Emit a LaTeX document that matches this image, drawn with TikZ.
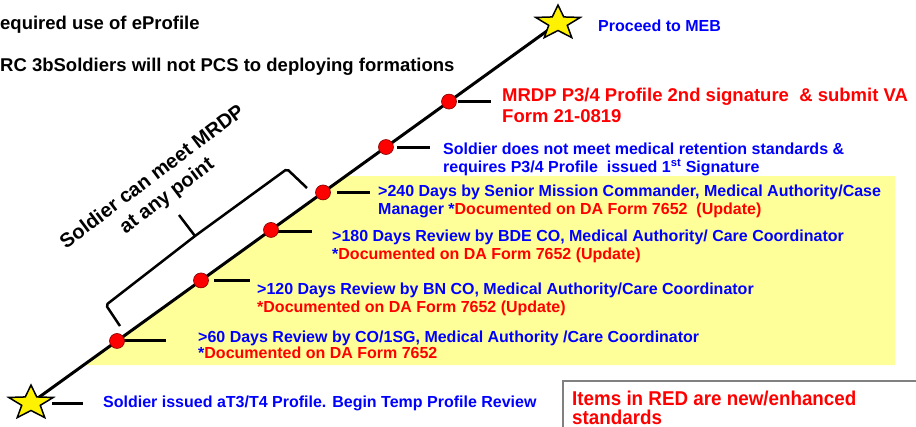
\documentclass[tikz,border=0pt]{standalone}
\usepackage{fontspec}
\setmainfont{Liberation Sans}
\usetikzlibrary{calc}
\definecolor{blu}{RGB}{0,0,255}
\definecolor{rd}{RGB}{255,0,0}
\definecolor{ylw}{RGB}{255,255,153}
\newcommand{\mkstar}[1]{%
  \draw[starfill, shift={(#1)}, xscale=1.3]
    (-90:18) -- (-54:7.5) -- (-18:18) -- (18:7.5) -- (54:18) -- (90:7.5)
    -- (126:18) -- (162:7.5) -- (198:18) -- (234:7.5) -- cycle;}
\begin{document}
\begin{tikzpicture}[x=1pt,y=-1pt,
  bt/.style={anchor=base west, inner sep=0pt, text=blu, font=\bfseries\fontsize{16}{18}\selectfont},
  rt/.style={anchor=base west, inner sep=0pt, text=rd, font=\bfseries\fontsize{18.5}{21}\selectfont},
  kt/.style={anchor=base west, inner sep=0pt, text=black, font=\bfseries\fontsize{18.5}{21}\selectfont},
  mainline/.style={line width=3pt, black},
  tickline/.style={line width=3pt, black},
  bracketline/.style={line width=2.5pt, black, rounded corners=2pt},
  dot/.style={circle, fill=rd, draw=black!50!red, line width=0.6pt, minimum size=15pt, inner sep=0pt},
  starfill/.style={fill=yellow, draw=black, line width=1.5pt, line join=miter},
]
\useasboundingbox (0,0) rectangle (916,426);
% yellow band
\fill[ylw] (84,365) -- (345,176) -- (895,176) -- (895,365) -- cycle;
% main timeline
\coordinate (s1) at (31,403);
\coordinate (s2) at (558,23);
\draw[mainline] (s1) -- (s2);
% points on the line
\coordinate (p1) at ($(s1)!0.1632!(s2)$);
\coordinate (p2) at ($(s1)!0.3226!(s2)$);
\coordinate (p3) at ($(s1)!0.4554!(s2)$);
\coordinate (p4) at ($(s1)!0.5541!(s2)$);
\coordinate (p5) at ($(s1)!0.6736!(s2)$);
\coordinate (p6) at ($(s1)!0.7932!(s2)$);
% ticks
\coordinate (t0) at (83,403);
\coordinate (t1) at ($(p1)+(49,0)$);
\coordinate (t2) at ($(p2)+(49,0)$);
\coordinate (t3) at ($(p3)+(41,2)$);
\coordinate (t4) at ($(p4)+(47,0)$);
\coordinate (t5) at ($(p5)+(44,0)$);
\coordinate (t6) at ($(p6)+(42,0)$);
\draw[tickline] ($(s1)+(21,0)$) -- (t0);
\draw[tickline] ($(p1)+(6,0)$) -- (t1);
\draw[tickline] ($(p2)+(13,0)$) -- (t2);
\draw[tickline] ($(p3)+(6,2)$) -- (t3);
\draw[tickline] ($(p4)+(14,0)$) -- (t4);
\draw[tickline] ($(p5)+(11,0)$) -- (t5);
\draw[tickline] ($(p6)+(9,0)$) -- (t6);
% dots
\node[dot] (d1) at (p1) {};
\node[dot] (d2) at (p2) {};
\node[dot] (d3) at (p3) {};
\node[dot] (d4) at (p4) {};
\node[dot] (d5) at (p5) {};
\node[dot] (d6) at (p6) {};
% stars
\mkstar{s1}
\mkstar{s2}
% bracket
\coordinate (b1) at (120,326);
\coordinate (b2) at (106,305);
\coordinate (bj) at (195,236);
\coordinate (bt) at (179,215);
\coordinate (b3) at (287,169);
\coordinate (b4) at (307,188);
\draw[bracketline] (b1) -- (b2) -- (bj) -- (b3) -- (b4);
\draw[bracketline] (bj) -- (bt);
\node[rotate=37, align=center, inner sep=0pt, font=\bfseries\fontsize{20}{24}\selectfont] (brlab) at (160,187) {Soldier can meet MRDP\\at any point};
% titles
\node[kt] (h1) at (0,29.6) {equired use of eProfile};
\node[kt] (h2) at (0,71.6) {RC 3bSoldiers will not PCS to deploying formations};
% labels
\node[bt] (meb) at (598,31) {Proceed to MEB};
\node[rt] (mrdp1) at (502,101.6) {MRDP P3/4 Profile 2nd signature~ \& submit VA};
\node[rt] (mrdp2) at (502,122.6) {Form 21-0819};
\node[bt] (nm1) at (443,154.7) {Soldier does not meet medical retention standards \&};
\node[bt] (nm2) at (443,172.7) {requires P3/4 Profile~ issued 1\textsuperscript{st} Signature};
\node[bt] (a1) at (378,196.7) {>240 Days by Senior Mission Commander, Medical Authority/Case};
\node[bt] (a2) at (378,214.7) {Manager *\textcolor{rd}{Documented on DA Form 7652~ (Update)}};
\node[bt] (b180) at (332,241.7) {>180 Days Review by BDE CO, Medical Authority/ Care Coordinator};
\node[bt] (b180b) at (332,259) {*\textcolor{rd}{Documented on DA Form 7652 (Update)}};
\node[bt] (c1) at (257,294.7) {>120 Days Review by BN CO, Medical Authority/Care Coordinator};
\node[bt, text=rd] (c2) at (257,312.7) {*Documented on DA Form 7652 (Update)};
\node[bt] (e1) at (198,342.7) {>60 Days Review by CO/1SG, Medical Authority /Care Coordinator};
\node[bt] (e2) at (198,358.7) {*\textcolor{rd}{Documented on DA Form 7652}};
\node[bt] (f1) at (103,407.7) {Soldier issued aT3/T4 Profile. Begin Temp Profile Review};
% legend box
\draw[gray, line width=1.2pt] (563,381) rectangle (935,445);
\node[anchor=base west, inner sep=0pt, text=rd, font=\bfseries\fontsize{20}{22}\selectfont] (leg1) at (572,405) {\scalebox{0.94}[1]{Items in RED are new/enhanced}};
\node[anchor=base west, inner sep=0pt, text=rd, font=\bfseries\fontsize{20}{22}\selectfont] (leg2) at (572,424) {\scalebox{0.94}[1]{standards}};
\end{tikzpicture}
\end{document}
